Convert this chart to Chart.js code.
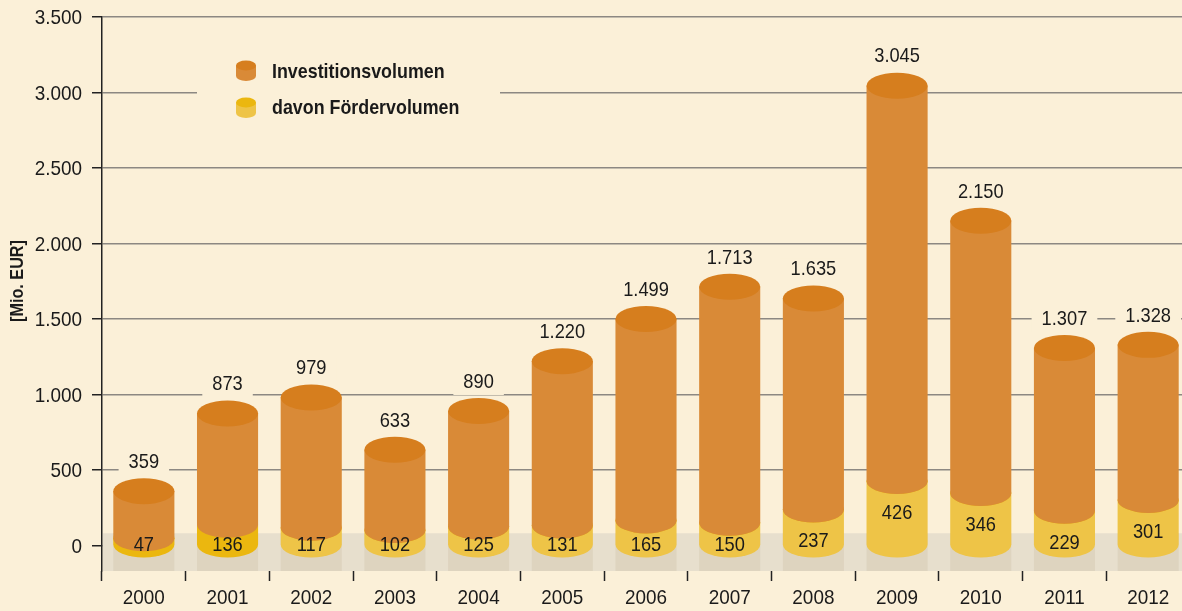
<!DOCTYPE html>
<html lang="de">
<head>
<meta charset="utf-8">
<title>Investitionsvolumen</title>
<script src="https://cdn.jsdelivr.net/npm/chart.js@4.4.1/dist/chart.umd.min.js"></script>
<style>
  html, body { margin: 0; padding: 0; background: #fbf0d8; overflow: hidden; }
  #wrap { width: 1190px; height: 611px; position: relative; }
</style>
</head>
<body>
<div id="wrap"><canvas id="chart"></canvas></div>
<script>
// ─── data ───
const YEARS   = ['2000', '2001', '2002', '2003', '2004', '2005', '2006', '2007', '2008', '2009', '2010', '2011', '2012'];
const INVEST  = [359, 873, 979, 633, 890, 1220, 1499, 1713, 1635, 3045, 2150, 1307, 1328];
const FOERDER = [47, 136, 117, 102, 125, 131, 165, 150, 237, 426, 346, 229, 301];
const Y_TICKS = [0, 500, 1000, 1500, 2000, 2500, 3000, 3500];
const LEGEND  = ['Investitionsvolumen', 'davon Fördervolumen'];

// ─── style ───
const FONT = '"Liberation Sans", Arial, sans-serif';
const NUM = '21px ' + FONT;
const SX = 0.87;              // schmal gestauchte schrift wie im original
const BG = '#fbf0d8';
const TEXT = '#1a1a1a';
const ORANGE_SIDE = '#d98a37', ORANGE_TOP = '#d67e1e';
const YELLOW_SIDE = '#eec447', YELLOW_TOP = '#ebb70f';
const RY = 13;

function fmt(v) { return String(v).replace(/\B(?=(\d{3})+(?!\d))/g, '.'); }

function narrowText(ctx, txt, x, y, font, align, sx) {
  ctx.save();
  ctx.font = font;
  ctx.textAlign = align;
  ctx.textBaseline = 'middle';
  ctx.fillStyle = TEXT;
  ctx.translate(x, y);
  ctx.scale(sx, 1);
  ctx.fillText(txt, 0, 0);
  ctx.restore();
}

// zylinder: seite + vordere untere halbellipse, dann deckel
function cylinder(ctx, x, w, yb, yt, side, top, ry) {
  const l = x - w / 2, r = x + w / 2;
  ctx.fillStyle = side;
  ctx.beginPath();
  ctx.moveTo(l, yt);
  ctx.lineTo(l, yb);
  ctx.ellipse(x, yb, w / 2, ry, 0, Math.PI, 0, true);
  ctx.lineTo(r, yt);
  ctx.closePath();
  ctx.fill();
  ctx.fillStyle = top;
  ctx.beginPath();
  ctx.ellipse(x, yt, w / 2, ry, 0, 0, Math.PI * 2);
  ctx.fill();
}

const cylPlugin = {
  id: 'cyl',
  beforeDatasetsDraw(chart) {
    const { ctx, chartArea: a, scales: { y } } = chart;
    const bandTop = y.getPixelForValue(80);
    const inv = chart.getDatasetMeta(0).data, fo = chart.getDatasetMeta(1).data;
    ctx.save();
    // boden
    ctx.fillStyle = '#e7dfcd';
    ctx.fillRect(a.left + 1, bandTop, a.right - a.left, a.bottom - bandTop);
    ctx.font = NUM;
    inv.forEach((b, i) => {
      ctx.fillStyle = '#ded4bf';
      ctx.fillRect(b.x - b.width / 2, bandTop, b.width, a.bottom - bandTop);
      const tw = ctx.measureText(fmt(INVEST[i])).width * SX;
      ctx.fillStyle = BG;
      ctx.fillRect(b.x - tw / 2 - 10, b.y - RY - 27, tw + 20, 24);
    });
    // legende abdecken
    ctx.fillStyle = BG;
    ctx.fillRect(197, 45, 303, 90);
    inv.forEach((b, i) => {
      const f = fo[i];
      cylinder(ctx, f.x, f.width, f.base, f.y, i < 2 ? YELLOW_TOP : YELLOW_SIDE, YELLOW_TOP, RY);
      cylinder(ctx, b.x, b.width, f.y, b.y, ORANGE_SIDE, ORANGE_TOP, RY);
    });
    ctx.restore();
  },
  afterDatasetsDraw(chart) {
    const { ctx, scales: { x, y } } = chart;
    const y0 = y.getPixelForValue(0);
    const inv = chart.getDatasetMeta(0).data, fo = chart.getDatasetMeta(1).data;
    inv.forEach((b, i) => {
      narrowText(ctx, fmt(INVEST[i]), b.x, b.y - 29, NUM, 'center', SX);
      const f = fo[i];
      narrowText(ctx, fmt(FOERDER[i]), f.x, Math.min(f.y + 32, y0), NUM, 'center', SX);
    });
    // achsenbeschriftung
    y.ticks.forEach((t, i) => narrowText(ctx, fmt(t.value), 82, y.getPixelForTick(i) + 1.5, NUM, 'right', 0.9));
    x.ticks.forEach((t, i) => narrowText(ctx, x.getLabelForValue(t.value), x.getPixelForTick(i), 598, NUM, 'center', 0.9));
    // legende
    ctx.save();
    cylinder(ctx, 246, 20, 76, 65.5, ORANGE_SIDE, ORANGE_TOP, 5);
    cylinder(ctx, 246, 20, 113, 102.5, YELLOW_SIDE, YELLOW_TOP, 5);
    ctx.restore();
    narrowText(ctx, LEGEND[0], 272, 72, 'bold 21px ' + FONT, 'left', 0.85);
    narrowText(ctx, LEGEND[1], 272, 108, 'bold 21px ' + FONT, 'left', 0.85);
    // achsentitel
    ctx.save();
    ctx.translate(18, 281);
    ctx.rotate(-Math.PI / 2);
    narrowText(ctx, '[Mio. EUR]', 0, 0, 'bold 18px ' + FONT, 'center', 0.9);
    ctx.restore();
  }
};

new Chart(document.getElementById('chart'), {
  type: 'bar',
  data: {
    labels: YEARS,
    datasets: [
      { label: LEGEND[0], data: INVEST, backgroundColor: 'rgba(0,0,0,0)', grouped: false, barPercentage: 0.73, categoryPercentage: 1 },
      { label: LEGEND[1], data: FOERDER, backgroundColor: 'rgba(0,0,0,0)', grouped: false, barPercentage: 0.73, categoryPercentage: 1 }
    ]
  },
  options: {
    responsive: true, maintainAspectRatio: false, animation: false,
    layout: { padding: { top: 17, left: 0, right: 0, bottom: 0 } },
    plugins: { legend: { display: false }, tooltip: { enabled: false } },
    scales: {
      x: {
        grid: { offset: true, drawOnChartArea: false, tickLength: 10, tickColor: '#222', tickWidth: 1.5 },
        border: { display: false },
        ticks: { display: false },
        afterFit: s => { s.height = 40; }
      },
      y: {
        min: -170, max: 3500,
        afterBuildTicks: s => { s.ticks = Y_TICKS.map(v => ({ value: v })); },
        grid: { color: '#8c8882', lineWidth: 1.5, tickLength: 10, tickColor: '#222', tickWidth: 1.5 },
        border: { color: '#222', width: 1.5 },
        ticks: { display: false },
        afterFit: s => { s.width = 102; }
      }
    }
  },
  plugins: [cylPlugin]
});
</script>
</body>
</html>
